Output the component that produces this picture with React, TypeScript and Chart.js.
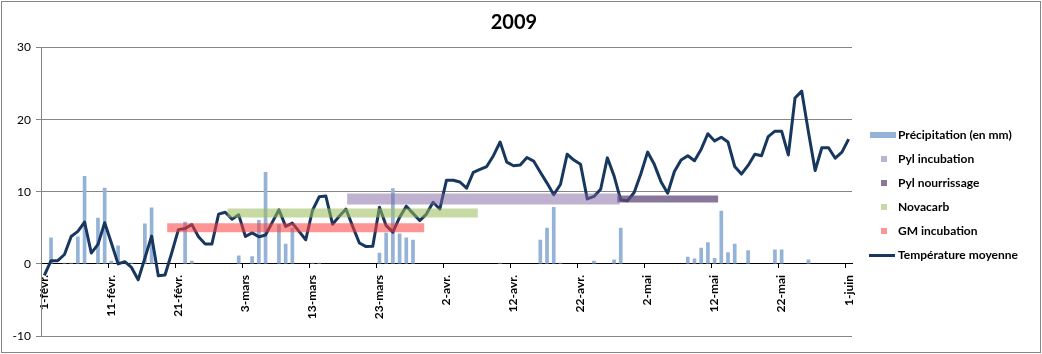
import React, { useEffect, useRef } from 'react';
import { Chart, registerables } from 'chart.js';

Chart.register(...registerables);

// ---- categories (daily, 1 Feb -> 1 Jun 2009) ----
const monthNames = ['févr.', 'mars', 'avr.', 'mai', 'juin'];
const monthDays = [28, 31, 30, 31, 1];
const categories: string[] = [];
monthNames.forEach((m, k) => {
  for (let d = 1; d <= monthDays[k]; d++) categories.push(`${d}-${m}`);
});
const labelEvery = 10;

const yTicks = [-10, 0, 10, 20, 30];

// ---- series ----
const precipitation = [
  0, 3.65, 0, 0.15, 0.15, 3.8, 12.2, 0, 6.4, 10.55,
  0.45, 2.55, 0, 0.15, 0, 5.6, 7.8, 0, 0, 0,
  0, 5.85, 0.45, 0, 0, 0, 0, 0, 0, 1.15,
  0, 1.05, 6.1, 12.75, 0, 5.5, 2.8, 5.0, 0, 0,
  0.15, 0.15, 0, 0, 0, 0, 0, 0, 0, 0,
  1.55, 4.3, 10.5, 4.2, 3.65, 3.35, 0, 0, 0, 0,
  0, 0, 0, 0, 0, 0, 0, 0, 0.15, 0,
  0, 0, 0, 0, 3.35, 5.0, 7.9, 0.15, 0, 0,
  0, 0, 0.45, 0, 0, 0.6, 5.0, 0, 0, 0,
  0, 0, 0, 0, 0, 0, 1.0, 0.75, 2.25, 3.0,
  0.8, 7.35, 1.6, 2.8, 0, 1.9, 0, 0, 0, 2.0,
  2.0, 0, 0, 0, 0.6, 0, 0, 0, 0, 0,
  0,
];

const temperature = [
  -1.6, 0.45, 0.45, 1.3, 3.8, 4.5, 5.8, 1.5, 2.7, 5.7,
  2.9, 0.0, 0.3, -0.5, -2.2, 0.8, 3.85, -1.65, -1.55, 1.5,
  4.75, 4.9, 5.45, 3.75, 2.75, 2.75, 6.9, 7.15, 6.2, 6.8,
  3.8, 4.3, 3.75, 4.0, 5.75, 7.5, 5.2, 5.65, 4.5, 3.35,
  7.4, 9.3, 9.4, 5.5, 6.6, 7.6, 5.2, 2.9, 2.4, 2.45,
  7.85, 5.3, 4.4, 6.45, 8.0, 7.0, 6.0, 6.9, 8.55, 7.6,
  11.6, 11.6, 11.35, 10.5, 12.7, 13.1, 13.5, 15.0, 16.9, 14.1,
  13.6, 13.7, 14.75, 14.25, 12.7, 11.2, 9.6, 11.0, 15.2, 14.4,
  13.8, 9.0, 9.35, 10.35, 14.7, 12.2, 8.85, 8.75, 9.9, 12.5,
  15.5, 13.8, 11.4, 9.8, 12.8, 14.4, 15.0, 14.3, 15.9, 18.05,
  17.05, 17.55, 16.9, 13.5, 12.45, 13.65, 15.2, 15.0, 17.65, 18.4,
  18.4, 15.1, 23.0, 23.95, 18.3, 12.95, 16.1, 16.1, 14.65, 15.5,
  17.3,
];

// ---- period bands ----
const bandLabels = ['Pyl incubation', 'Pyl nourrissage', 'Novacarb', 'GM incubation'];
const bandFrom = ['19-mars', '28-avr.', '1-mars', '20-févr.'];
const bandTo = ['27-avr.', '12-mai', '6-avr.', '29-mars'];
const bandLevel = [9.0, 9.0, 7.05, 5.0];

const precipLabel = 'Précipitation (en mm)';
const tempLabel = 'Température moyenne';

function bandSeries(k: number): (number | null)[] {
  const a = categories.indexOf(bandFrom[k]);
  const b = categories.indexOf(bandTo[k]);
  return categories.map((_, i) => (i >= a && i <= b ? bandLevel[k] : null));
}

const FONT = 'Lato, "Open Sans", sans-serif';

function swatch(kind: 'bar' | 'square' | 'line', color: string): HTMLCanvasElement {
  const c = document.createElement('canvas');
  c.width = 40;
  c.height = 12;
  const g = c.getContext('2d')!;
  g.fillStyle = color;
  if (kind === 'bar') g.fillRect(12, 3, 26, 6);
  else if (kind === 'square') g.fillRect(23, 3, 6, 6);
  else g.fillRect(11, 5, 26, 3);
  return c;
}

export default function App() {
  const ref = useRef<HTMLCanvasElement>(null);

  useEffect(() => {
    document.body.style.margin = '0';
    const canvas = ref.current!;

    const precipColor = '#95B3D7';
    const tempColor = '#17375E';
    const bandColors = [
      'rgba(128,100,162,0.5)',
      'rgba(96,73,122,0.75)',
      'rgba(155,187,89,0.55)',
      'rgba(255,60,60,0.55)',
    ];
    const bandWidths = [11, 7, 9, 9];

    const legendSize = 12;
    const legendPad = 12;
    const boxW = 28;
    const mctx = canvas.getContext('2d')!;
    mctx.font = `bold ${legendSize}px ${FONT}`;
    const allLabels = [precipLabel, ...bandLabels, tempLabel];
    const maxW = Math.max(...allLabels.map((t) => mctx.measureText(t).width));
    const legendWidth = legendPad + boxW + legendSize / 2 + maxW + 10;
    const padRight = Math.max(0, 1042 - 852 - legendWidth);

    const legendImages = [
      swatch('bar', precipColor),
      ...bandColors.map((c) => swatch('square', c)),
      swatch('line', tempColor),
    ];
    const legendDatasetIdx = [0, 2, 3, 4, 5, 1];

    const frame = {
      id: 'frame',
      beforeDraw(chart: any) {
        const { ctx, width, height } = chart;
        ctx.save();
        ctx.fillStyle = '#fff';
        ctx.fillRect(0, 0, width, height);
        ctx.strokeStyle = '#868686';
        ctx.lineWidth = 1;
        ctx.strokeRect(1.5, 1.5, width - 3, height - 3);
        ctx.restore();
      },
    };

    const chart = new Chart(canvas, {
      data: {
        labels: categories,
        datasets: [
          {
            type: 'bar',
            label: precipLabel,
            data: precipitation,
            backgroundColor: precipColor,
            borderWidth: 0,
            barPercentage: 0.55,
            categoryPercentage: 1,
            order: 4,
          },
          {
            type: 'line',
            label: tempLabel,
            data: temperature,
            borderColor: tempColor,
            backgroundColor: tempColor,
            borderWidth: 3,
            pointRadius: 0,
            tension: 0,
            borderJoinStyle: 'round',
            order: 3,
          },
          ...bandLabels.map((lab, k) => ({
            type: 'line' as const,
            label: lab,
            data: bandSeries(k),
            borderColor: bandColors[k],
            backgroundColor: bandColors[k],
            borderWidth: bandWidths[k],
            borderCapStyle: 'square' as const,
            pointRadius: 0,
            spanGaps: false,
            order: k === 0 ? 0 : k === 1 ? 1 : 2,
          })),
        ],
      } as any,
      options: {
        responsive: false,
        animation: false,
        devicePixelRatio: 1,
        events: [],
        layout: { padding: { top: 0, right: padRight, bottom: 18, left: 0 } },
        plugins: {
          title: {
            display: true,
            text: '2009',
            color: '#000',
            font: { family: FONT, size: 20, weight: 'bold' },
            padding: { top: 11, bottom: 12.5 },
          },
          legend: {
            display: true,
            position: 'right',
            align: 'start',
            title: {
              display: true,
              text: '',
              font: { family: FONT, size: 10 },
              padding: { top: 105, bottom: 0 },
            },
            labels: {
              usePointStyle: true,
              pointStyleWidth: boxW,
              padding: legendPad,
              color: '#000',
              font: { family: FONT, size: legendSize, weight: 'bold' },
              generateLabels: () =>
                allLabels.map((t, i) => ({
                  text: t,
                  pointStyle: legendImages[i],
                  fillStyle: 'transparent',
                  strokeStyle: 'transparent',
                  lineWidth: 0,
                  hidden: false,
                  datasetIndex: legendDatasetIdx[i],
                  fontColor: '#000',
                })),
            },
          },
          tooltip: { enabled: false },
        },
        scales: {
          x: {
            type: 'category',
            position: { y: 0 },
            offset: true,
            grid: {
              offset: true,
              drawOnChartArea: false,
              drawTicks: true,
              tickLength: 4,
              color: (c: any) => (c.index % labelEvery === 0 ? '#000' : 'rgba(0,0,0,0)'),
            },
            border: { display: true, color: '#000', width: 1 },
            ticks: {
              autoSkip: false,
              maxRotation: 90,
              minRotation: 90,
              padding: 7,
              color: '#000',
              font: { family: FONT, size: 12, weight: 'bold' },
              callback: (_v: any, i: number) => (i % labelEvery === 0 ? categories[i] : ''),
            },
          },
          y: {
            type: 'linear',
            position: 'left',
            min: yTicks[0],
            max: yTicks[yTicks.length - 1],
            afterFit: (s: any) => {
              s.width = 41;
            },
            afterBuildTicks: (s: any) => {
              s.ticks = yTicks.map((v) => ({ value: v }));
            },
            grid: {
              color: (c: any) => (c.tick && c.tick.value === 0 ? 'rgba(0,0,0,0)' : '#868686'),
              tickColor: '#868686',
              tickLength: 5,
            },
            border: { display: true, color: '#868686', width: 1 },
            ticks: {
              padding: 5,
              color: '#000',
              font: { family: FONT, size: 12 },
            },
          },
        },
      } as any,
      plugins: [frame],
    });

    return () => chart.destroy();
  }, []);

  return (
    <div style={{ width: 1042, height: 354 }}>
      <canvas ref={ref} width={1042} height={354} style={{ display: 'block' }} />
    </div>
  );
}
